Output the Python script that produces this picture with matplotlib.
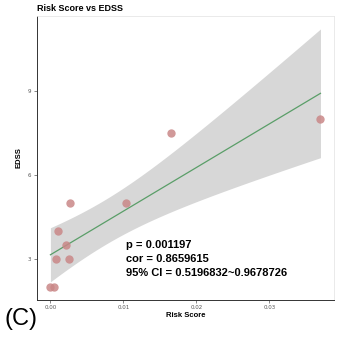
import numpy as np
import matplotlib
matplotlib.use("Agg")
import matplotlib.pyplot as plt

# Risk score and EDSS per patient
risk_score = [0.0000, 0.0005, 0.0008, 0.0025, 0.0021, 0.0011, 0.0027, 0.0104, 0.0165, 0.0370]
edss = [2.0, 2.0, 3.0, 3.0, 3.5, 4.0, 5.0, 5.0, 7.5, 8.0]

stats_lines = ["p = 0.001197", "cor = 0.8659615", "95% CI = 0.5196832~0.9678726"]
x_ticks = [0.00, 0.01, 0.02, 0.03]
x_tick_labels = ["0.00", "0.01", "0.02", "0.03"]
y_ticks = [3, 6, 9]

x = np.asarray(risk_score)
y = np.asarray(edss)
n = len(x)

# Linear fit with 95% confidence band (like geom_smooth(method = "lm"))
slope, intercept = np.polyfit(x, y, 1)
resid = y - (slope * x + intercept)
s = np.sqrt(np.sum(resid ** 2) / (n - 2))
t_crit = {8: 2.306, 9: 2.262, 10: 2.228}[n - 2]
xs = np.linspace(x.min(), x.max(), 200)
fit = slope * xs + intercept
se = s * np.sqrt(1.0 / n + (xs - x.mean()) ** 2 / np.sum((x - x.mean()) ** 2))
lo, hi = fit - t_crit * se, fit + t_crit * se

fig = plt.figure(figsize=(3.45, 3.42), dpi=100)
ax = fig.add_axes([0.107, 0.123, 0.861, 0.830])

ax.fill_between(xs, lo, hi, color="#d7d7d7", lw=0, zorder=1)
ax.plot(xs, fit, color="#5a9e68", lw=0.9, zorder=2)
ax.scatter(x, y, s=36, color="#c98787", alpha=0.85, lw=0, zorder=3)

# 5% padding like ggplot's default expansion
xmin, xmax = x.min(), x.max()
ymin, ymax = min(y.min(), lo.min()), max(y.max(), hi.max())
dx, dy = (xmax - xmin) * 0.05, (ymax - ymin) * 0.05
ax.set_xlim(xmin - dx, xmax + dx)
ax.set_ylim(ymin - dy, ymax + dy)

ax.set_xticks(x_ticks)
ax.set_xticklabels(x_tick_labels)
ax.set_yticks(y_ticks)
ax.tick_params(axis="both", labelsize=4, colors="#555555", length=2, width=0.5, pad=2)

for side in ("top", "right"):
    ax.spines[side].set_color("#e6e6e6")
    ax.spines[side].set_linewidth(0.6)
for side in ("left", "bottom"):
    ax.spines[side].set_color("#333333")
    ax.spines[side].set_linewidth(0.7)

ax.set_xlabel("Risk Score", fontsize=5.5, fontweight="bold", family="Liberation Sans", labelpad=1)
ax.set_ylabel("EDSS", fontsize=5.5, fontweight="bold", family="Liberation Sans", labelpad=4)

fig.text(0.107, 0.975, "Risk Score vs EDSS", fontsize=6.5, fontweight="bold",
         family="Liberation Sans", ha="left", va="center")

for i, line in enumerate(stats_lines):
    ax.text(0.30, 0.194 - i * 0.049, line, transform=ax.transAxes, fontsize=8,
            fontweight="bold", family="Liberation Sans", ha="left", va="center")

fig.text(0.014, 0.068, "(C)", fontsize=17, family="Liberation Sans", ha="left", va="center")

fig.savefig("out.png", dpi=100)
